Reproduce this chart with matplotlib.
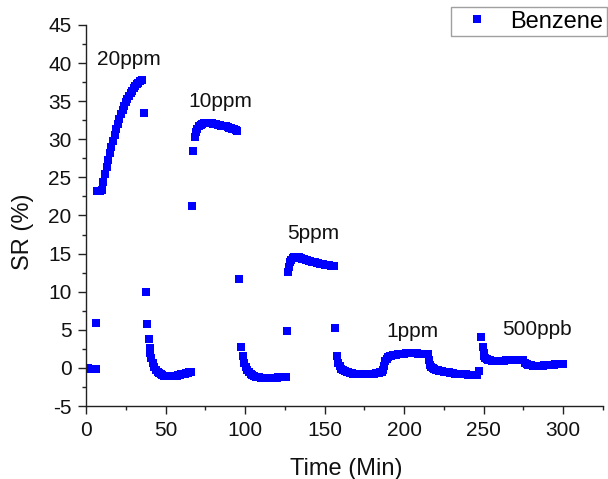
import matplotlib
matplotlib.use("Agg")
import matplotlib.pyplot as plt
from matplotlib.ticker import MultipleLocator

plt.rcParams['font.family'] = ['Liberation Sans', 'DejaVu Sans']
plt.rcParams['axes.unicode_minus'] = False

# ---- data ----
time_min = [
    0, 1, 2, 3, 4, 5, 6,
    6.5,
    7, 8, 9, 10, 11, 12, 13, 14, 15, 16, 17, 18, 19, 20, 21, 22, 23, 24, 25,
    26, 27, 28, 29, 30, 31, 32, 33, 34, 35,
    36.5, 37.5, 38.5, 39.5, 40, 40.5, 41, 42, 43, 44, 45, 46, 47, 48, 49, 50,
    51, 52, 53, 54, 55, 56, 57, 58, 59, 60, 61, 62, 63, 64, 65, 66,
    66.8, 67.5, 68.5, 69, 70, 71, 72, 73, 74, 75, 76, 77, 78, 79, 80, 81, 82,
    83, 84, 85, 86, 87, 88, 89, 90, 91, 92, 93, 94, 95,
    96, 97.5, 98.5, 99.5, 100.5, 101.5, 102.5, 103.5, 104.5, 105.5, 107, 108,
    109, 110, 111, 112, 113, 114, 115, 116, 117, 118, 119, 120, 121, 122, 123,
    124, 125, 126,
    126.6, 127.2, 127.7, 128.2, 129, 130, 131, 132, 133, 134, 135, 136, 137,
    138, 139, 140, 141, 142, 143, 144, 145, 146, 147, 148, 149, 150, 151, 152,
    153, 154, 155, 156,
    156.6, 157.5, 158.5, 159.5, 160.5, 161.5, 162.5, 164, 165, 166, 167, 168,
    169, 170, 171, 172, 173, 174, 175, 176, 177, 178, 179, 180, 181, 182, 183,
    184, 185, 186, 187,
    187.5, 188, 189, 190, 191, 192, 193, 194, 195, 196, 197, 198, 199, 200,
    201, 202, 203, 204, 205, 206, 207, 208, 209, 210, 211, 212, 213, 214, 215,
    215.5, 216, 217, 218, 219, 220, 221, 222, 223, 224, 225, 226, 227, 228,
    229, 230, 231, 232, 233, 234, 235, 236, 237, 238, 239, 240, 241, 242, 243,
    244, 245, 246, 247,
    248.5, 249.5, 250, 250.5, 251, 252, 253, 254, 255, 256, 257, 258, 259,
    260, 261, 262, 263, 264, 265, 266, 267, 268, 269, 270, 271, 272, 273, 274,
    275, 276, 277, 278, 279, 280, 281, 282, 283, 284, 285, 286, 287, 288, 289,
    290, 291, 292, 293, 294, 295, 296, 297, 298, 299, 300,
]
sr_pct = [
    0.0, 0.0, -0.1, -0.1, -0.2, -0.2, -0.2,
    5.9,
    23.2, 23.2, 23.2, 23.3, 24.4, 25.4, 26.4, 27.3, 28.2, 29.0, 29.8, 30.6,
    31.3, 32.0, 32.7, 33.3, 33.9, 34.4, 34.9, 35.3, 35.7, 36.1, 36.4, 36.7,
    37.0, 37.2, 37.4, 37.6, 37.8,
    33.4, 10.0, 5.8, 3.8, 2.6, 1.9, 1.3, 0.6, 0.1, -0.3, -0.5, -0.7, -0.85,
    -0.95, -1.0, -1.05, -1.1, -1.1, -1.1, -1.1, -1.05, -1.0, -1.0, -0.95,
    -0.9, -0.85, -0.8, -0.75, -0.7, -0.65, -0.6, -0.6,
    21.2, 28.4, 30.3, 30.9, 31.4, 31.7, 31.9, 32.0, 32.1, 32.1, 32.1, 32.1,
    32.1, 32.1, 32.0, 32.0, 32.0, 31.9, 31.9, 31.8, 31.8, 31.7, 31.7, 31.6,
    31.5, 31.5, 31.4, 31.3, 31.2, 31.1,
    11.7, 2.8, 1.5, 0.7, 0.1, -0.3, -0.6, -0.8, -0.95, -1.05, -1.15, -1.2,
    -1.25, -1.3, -1.3, -1.35, -1.35, -1.35, -1.35, -1.35, -1.3, -1.3, -1.3,
    -1.3, -1.25, -1.25, -1.2, -1.2, -1.2, -1.15,
    4.9, 12.6, 13.3, 13.9, 14.2, 14.4, 14.5, 14.6, 14.6, 14.55, 14.45, 14.35,
    14.25, 14.2, 14.1, 14.05, 14.0, 13.95, 13.9, 13.85, 13.8, 13.75, 13.7,
    13.65, 13.6, 13.55, 13.5, 13.5, 13.45, 13.4, 13.4, 13.4,
    5.2, 1.5, 0.7, 0.2, -0.1, -0.3, -0.45, -0.55, -0.6, -0.65, -0.7, -0.75,
    -0.75, -0.8, -0.8, -0.8, -0.8, -0.85, -0.85, -0.85, -0.8, -0.8, -0.8,
    -0.75, -0.75, -0.7, -0.7, -0.65, -0.6, -0.5, -0.3,
    0.3, 0.9, 1.2, 1.4, 1.5, 1.6, 1.65, 1.7, 1.75, 1.8, 1.8, 1.85, 1.85, 1.85,
    1.9, 1.9, 1.9, 1.9, 1.9, 1.9, 1.9, 1.9, 1.85, 1.85, 1.85, 1.85, 1.85, 1.8,
    1.8,
    1.0, 0.4, 0.1, -0.05, -0.15, -0.25, -0.3, -0.35, -0.4, -0.45, -0.5, -0.55,
    -0.6, -0.6, -0.65, -0.7, -0.7, -0.75, -0.75, -0.8, -0.8, -0.8, -0.85,
    -0.85, -0.85, -0.9, -0.9, -0.9, -0.9, -0.95, -0.95, -0.9, -0.4,
    4.1, 2.8, 2.0, 1.6, 1.3, 1.2, 1.1, 1.0, 0.95, 0.9, 0.9, 0.9, 0.9, 0.9,
    0.9, 0.95, 0.95, 1.0, 1.0, 1.05, 1.05, 1.05, 1.05, 1.0, 1.0, 1.0, 1.0,
    1.0, 1.0, 0.7, 0.45, 0.4, 0.35, 0.35, 0.3, 0.3, 0.3, 0.3, 0.3, 0.3, 0.3,
    0.35, 0.35, 0.35, 0.4, 0.4, 0.4, 0.4, 0.45, 0.45, 0.45, 0.45, 0.5, 0.5,
]

label_texts = ["20ppm", "10ppm", "5ppm", "1ppm", "500ppb"]
label_x = [6.9, 64.2, 126.6, 188.7, 261.4]
label_y = [39.8, 34.2, 16.9, 4.0, 4.3]

series_name = "Benzene"
x_label = "Time (Min)"
y_label = "SR (%)"
x_ticks = [0, 50, 100, 150, 200, 250, 300]
y_ticks = [-5, 0, 5, 10, 15, 20, 25, 30, 35, 40, 45]

# ---- figure ----
fig = plt.figure(figsize=(6.08, 4.79), dpi=100)
ax = fig.add_axes([86/608, 1 - 406/479, (603-86)/608, (406-25)/479])

ax.plot(time_min, sr_pct, linestyle='none', marker='s', markersize=6.2,
        color='#0000ff', markeredgewidth=0, label=series_name)

for txt, x, y in zip(label_texts, label_x, label_y):
    ax.text(x, y, txt, fontsize=15, ha='left', va='baseline', color='#111111')

ax.set_xlim(0, 325)
ax.set_ylim(-5, 45)
ax.set_xticks(x_ticks)
ax.set_yticks(y_ticks)
ax.xaxis.set_minor_locator(MultipleLocator(25))
ax.yaxis.set_minor_locator(MultipleLocator(2.5))
ax.spines['top'].set_visible(False)
ax.spines['right'].set_visible(False)
for s in ('left', 'bottom'):
    ax.spines[s].set_linewidth(1.0)
    ax.spines[s].set_color('#222222')
ax.tick_params(which='major', direction='out', length=5.5, width=1.0,
               labelsize=15, colors='#222222', labelcolor='#111111')
ax.tick_params(which='minor', direction='out', length=3, width=1.0,
               colors='#222222')
ax.tick_params(axis='x', which='major', pad=5.5)
ax.tick_params(axis='y', which='major', pad=5)

fig.text(346/608, 1 - 475/479, x_label, fontsize=17, ha='center',
         va='baseline', color='#111111')
fig.text(23/608, 1 - 231.5/479, y_label, fontsize=17, ha='center',
         va='center', rotation=90, color='#111111')

leg = ax.legend(loc='upper left', bbox_to_anchor=(451/608, 1 - 7/479),
                bbox_transform=fig.transFigure, fontsize=17, frameon=True,
                fancybox=False, borderpad=0.15, borderaxespad=0,
                handlelength=1.9, handletextpad=0.45, markerscale=1.0)
leg.get_frame().set_edgecolor('#888888')
leg.get_frame().set_linewidth(1.0)

fig.savefig("out.png", dpi=100)
